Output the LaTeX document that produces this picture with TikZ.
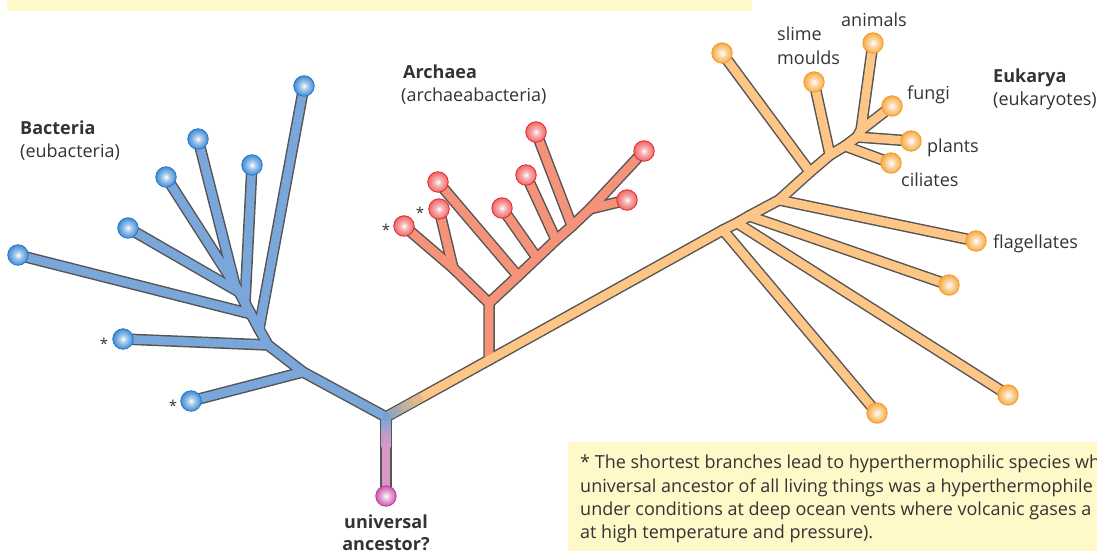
\documentclass[tikz,border=0pt]{standalone}
\usepackage{fontspec}
\setmainfont{Open Sans}
\usetikzlibrary{calc}
\definecolor{bfill}{HTML}{7AA6DA}
\definecolor{afill}{HTML}{F4937A}
\definecolor{efill}{HTML}{FDC586}
\definecolor{ufill}{HTML}{D898C8}
\definecolor{edgecol}{HTML}{555555}
\definecolor{bball}{HTML}{2079CC}
\definecolor{aball}{HTML}{E82424}
\definecolor{eball}{HTML}{F59A22}
\definecolor{uball}{HTML}{C0399C}
\definecolor{notecol}{HTML}{FFF8C8}
\definecolor{txt}{HTML}{333333}
\pgfdeclareradialshading{bshade}{\pgfpoint{0bp}{0bp}}{color(0bp)=(white); color(9bp)=(bball!40!white); color(30bp)=(bball); color(50bp)=(bball)}
\pgfdeclareradialshading{ashade}{\pgfpoint{0bp}{0bp}}{color(0bp)=(white); color(9bp)=(aball!35!white); color(30bp)=(aball!80!white); color(42bp)=(aball); color(50bp)=(aball)}
\pgfdeclareradialshading{eshade}{\pgfpoint{0bp}{0bp}}{color(0bp)=(white); color(9bp)=(eball!35!white); color(30bp)=(eball); color(50bp)=(eball)}
\pgfdeclareradialshading{ushade}{\pgfpoint{0bp}{0bp}}{color(0bp)=(white); color(9bp)=(uball!35!white); color(30bp)=(uball); color(50bp)=(uball)}
\pgfdeclarelayer{bg}
\pgfsetlayers{bg,main}
\begin{document}
\begin{tikzpicture}[x=1pt,y=-1pt,
  outline/.style={draw=edgecol, line width=11.5pt, line cap=round, line join=round},
  fl/.style={draw=#1, line width=8.6pt, line cap=round, line join=round},
  leaf/.style={circle, inner sep=0pt, minimum size=20.5pt, line width=0.8pt},
  bleaf/.style={leaf, draw=bball, shading=bshade},
  aleaf/.style={leaf, draw=aball, shading=ashade},
  eleaf/.style={leaf, draw=eball, shading=eshade},
  uleaf/.style={leaf, draw=uball, shading=ushade},
  lab/.style={anchor=base west, font=\fontsize{18}{21}\selectfont, text=txt, inner sep=0pt},
  blab/.style={lab, font=\fontsize{18}{21}\selectfont\bfseries},
  star/.style={anchor=base, font=\fontsize{15}{18}\selectfont, text=txt, inner sep=0pt},
  ]
\useasboundingbox (0,0) rectangle (1097,551);

% note boxes
\fill[notecol] (7,0) rectangle (752,11);
\fill[notecol] (568,442) rectangle (1097,551);

% ---- junction coordinates ----
\coordinate (R) at (386,417);
% bacteria
\coordinate (bA) at (235,285);
\coordinate (bB) at (239,292);
\coordinate (bC) at (245,303);
\coordinate (bD) at (251,314);
\coordinate (bE) at (259,329);
\coordinate (bF) at (268,345);
\coordinate (bG) at (303,372);
% archaea
\coordinate (aS) at (489,360);
\coordinate (aJ) at (489,303);
\coordinate (aK) at (453,268);
\coordinate (a3j) at (518,276);
\coordinate (a4j) at (537,258);
\coordinate (a5j) at (556,240);
\coordinate (a6j) at (572,226);
\coordinate (a78j) at (590,209);
% eukarya
\coordinate (eA) at (723,230);
\coordinate (eB) at (737,223);
\coordinate (eC) at (749,216);
\coordinate (eD) at (779,200);
\coordinate (eE) at (810,172);
\coordinate (eF) at (830,155);
\coordinate (eG) at (845,146);
\coordinate (eH) at (857,137);
\coordinate (eI) at (861,130);

% ---- leaves ----
\node[bleaf] (b1) at (18,255) {};
\node[bleaf] (b2) at (128,228) {};
\node[bleaf] (b3) at (166,177) {};
\node[bleaf] (b4) at (198,139) {};
\node[bleaf] (b5) at (252,165) {};
\node[bleaf] (b6) at (304,86) {};
\node[bleaf] (b7) at (123,339) {};
\node[bleaf] (b8) at (191,401) {};

\node[aleaf] (a1) at (404,226) {};
\node[aleaf] (a2) at (439,209) {};
\node[aleaf] (a3) at (438,182) {};
\node[aleaf] (a4) at (502,208) {};
\node[aleaf] (a5) at (526,175) {};
\node[aleaf] (a6) at (536,132) {};
\node[aleaf] (a7) at (644,151) {};
\node[aleaf] (a8) at (627,200) {};

\node[eleaf] (e1) at (722,53) {};
\node[eleaf] (slime) at (814,82) {};
\node[eleaf] (animals) at (873,43) {};
\node[eleaf] (fungi) at (892,106) {};
\node[eleaf] (plants) at (911,141) {};
\node[eleaf] (ciliates) at (891,163) {};
\node[eleaf] (flag) at (976,241) {};
\node[eleaf] (e8) at (949,285) {};
\node[eleaf] (e9) at (1008,395) {};
\node[eleaf] (e10) at (877,413) {};

\node[uleaf] (U) at (386,496) {};

% ---- branches ----
\newcommand\bacedges[1]{%
  \draw[#1] (b3.center) -- (bA) (b4.center) -- (bA) -- (bB) -- (bC) -- (bD) -- (bE) -- (bF) -- (bG) -- (R);
  \draw[#1] (b2.center) -- (bB);
  \draw[#1] (b5.center) -- (bC);
  \draw[#1] (b1.center) -- (bD);
  \draw[#1] (b6.center) -- (bE);
  \draw[#1] (b7.center) -- (bF);
  \draw[#1] (b8.center) -- (bG);}
\newcommand\arcedges[1]{%
  \draw[#1] (aS) -- (aJ) -- (aK) -- (a1.center);
  \draw[#1] (a2.center) -- (aK);
  \draw[#1] (aJ) -- (a3j) -- (a4j) -- (a5j) -- (a6j) -- (a78j) -- (a7.center);
  \draw[#1] (a3.center) -- (a3j);
  \draw[#1] (a4.center) -- (a4j);
  \draw[#1] (a5.center) -- (a5j);
  \draw[#1] (a6.center) -- (a6j);
  \draw[#1] (a8.center) -- (a78j);}
\newcommand\eukedges[1]{%
  \draw[#1] (R) -- (aS) -- (eA) -- (eB) -- (eC) -- (eD) -- (eE) -- (eF) -- (eG) -- (eH) -- (eI) -- (animals.center);
  \draw[#1] (eI) -- (fungi.center);
  \draw[#1] (eH) -- (plants.center);
  \draw[#1] (eG) -- (ciliates.center);
  \draw[#1] (eF) -- (slime.center);
  \draw[#1] (eE) -- (e1.center);
  \draw[#1] (eD) -- (flag.center);
  \draw[#1] (eC) -- (e8.center);
  \draw[#1] (eB) -- (e9.center);
  \draw[#1] (eA) -- (e10.center);}

\begin{pgfonlayer}{bg}
  \bacedges{outline}
  \arcedges{outline}
  \eukedges{outline}
  \draw[outline] (R) -- (U.center);
  \arcedges{fl=afill}
  \eukedges{fl=efill}
  \bacedges{fl=bfill}
  % colour blend near the root
  \foreach \i in {0,...,9}{
    \pgfmathsetmacro\p{\i*10}
    \draw[line width=8.6pt, line cap=round, draw=efill!\p!bfill!85!gray]
      ($(R)!{\i/10*0.32}!(aS)$) -- ($(R)!{(\i+1)/10*0.32}!(aS)$);
  }
  \shade[top color=bfill, bottom color=ufill, middle color=ufill!70!bfill]
    ($(R)+(-4.3,2)$) rectangle ($(R)+(4.3,30)$);
  \fill[ufill] ($(R)+(-4.3,30)$) rectangle ($(U.center)+(4.3,0)$);
  \fill[bfill!85!gray] (R) circle (4.3pt);
\end{pgfonlayer}

% ---- labels ----
\node[blab] (lbac) at (20,134) {Bacteria};
\node[lab] (lbac2) at (20,157) {(eubacteria)};
\node[blab] (larc) at (403,78) {Archaea};
\node[lab] (larc2) at (401,101) {(archaeabacteria)};
\node[blab] (leuk) at (993,82) {Eukarya};
\node[lab] (leuk2) at (993,105) {(eukaryotes)};
\node[lab] (lslime) at (777,41) {slime};
\node[lab] (lmould) at (777,64) {moulds};
\node[lab] (lanim) at (841,27) {animals};
\node[lab] (lfungi) at (907,99) {fungi};
\node[lab] (lplants) at (927,152) {plants};
\node[lab] (lcil) at (901,186) {ciliates};
\node[lab] (lflag) at (993,248) {flagellates};
\node[blab, anchor=base] (lu1) at (386,528) {universal};
\node[blab, anchor=base] (lu2) at (386,550) {ancestor?};

\node[star] (s1) at (104,349) {*};
\node[star] (s2) at (173,411) {*};
\node[star] (s3) at (386,235) {*};
\node[star] (s4) at (420,218) {*};

\node[lab] (n1) at (580,468) {* The shortest branches lead to hyperthermophilic species wh};
\node[lab] (n2) at (580,492) {universal ancestor of all living things was a hyperthermophile};
\node[lab] (n3) at (580,515) {under conditions at deep ocean vents where volcanic gases a};
\node[lab] (n4) at (580,538) {at high temperature and pressure).};
\end{tikzpicture}
\end{document}
